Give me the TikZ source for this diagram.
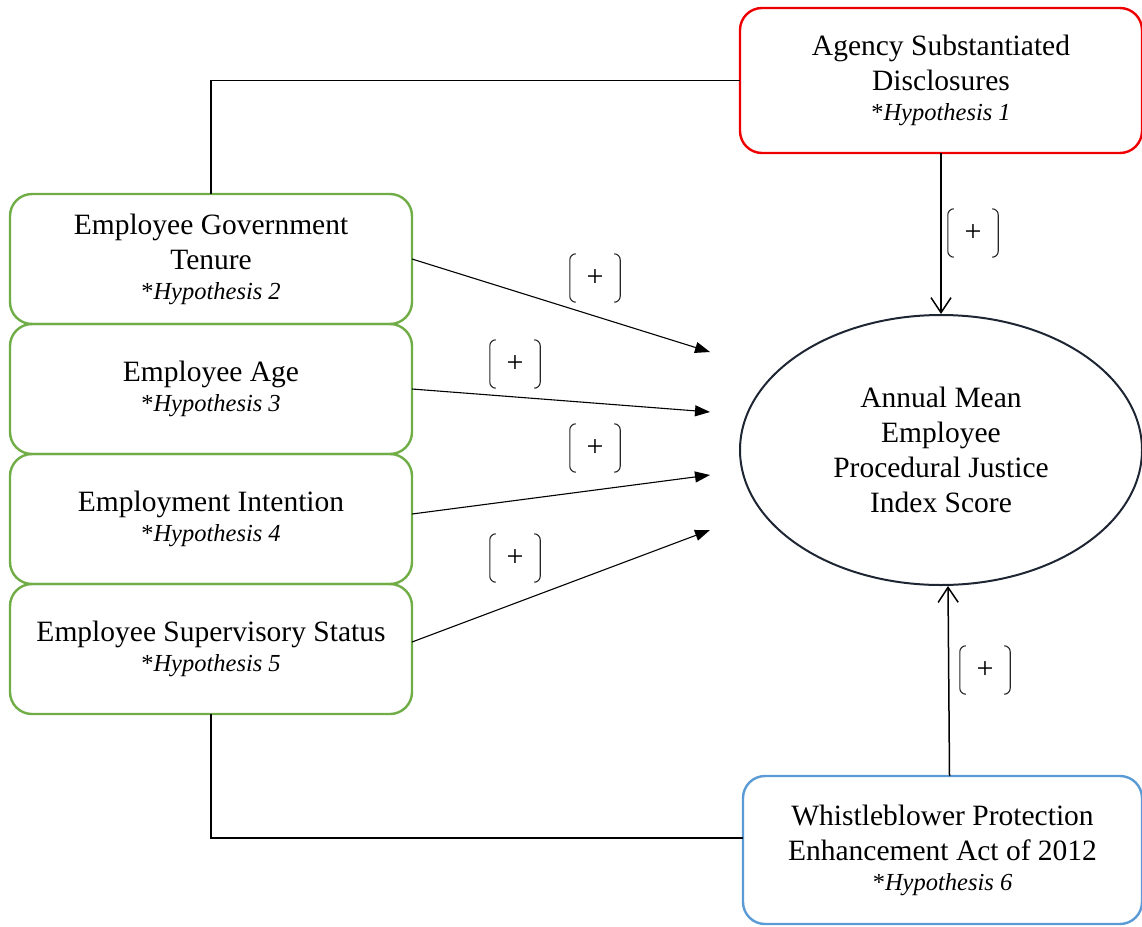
\documentclass[tikz,border=0pt]{standalone}
\usepackage{fontspec}
\setmainfont{Liberation Serif}
\usetikzlibrary{positioning,shapes.geometric,arrows.meta}
\definecolor{hgreen}{RGB}{112,173,71}
\definecolor{hred}{RGB}{238,0,0}
\definecolor{hblue}{RGB}{91,155,213}
\definecolor{hnavy}{RGB}{30,38,52}
\newcommand{\hyp}[1]{\\[-5pt]{\fontsize{24.5}{30}\selectfont *\textit{Hypothesis #1}}}

\begin{document}
\begin{tikzpicture}
      [x=1pt,y=-1pt,
      every node/.style={align=center,font=\fontsize{29.5}{35}\selectfont},
      box/.style={shape=rectangle,draw,rounded corners=22pt,line width=2.4pt,
        minimum width=402pt,minimum height=130pt,inner sep=0pt,outer sep=0pt},
      gbox/.style={box,draw=hgreen},
      pm/.style={minimum width=50pt,minimum height=48pt,inner sep=0pt,
        font=\fontsize{30}{30}\selectfont},
      brk/.style={draw=black!85,line width=1.1pt,rounded corners=6pt},
      link/.style={draw,line width=1.1pt},
      push/.style={link,-{Triangle[length=15pt,width=11pt]}},
      barb/.style={link,line width=1.5pt,-{Straight Barb[length=15pt,width=20pt]}}]
\useasboundingbox (0,0) rectangle (1142,926);
\node[box,draw=hred,minimum height=145pt] (agency) at (941,80.5)
    {Agency Substantiated\\Disclosures\hyp{1}};
\node[gbox] (tenure) at (211,259) {Employee Government\\Tenure\hyp{2}};
\node[gbox,below=0pt of tenure] (age) {Employee Age\hyp{3}};
\node[gbox,below=0pt of age] (intent) {Employment Intention\hyp{4}};
\node[gbox,below=0pt of intent] (superv) {Employee Supervisory Status\hyp{5}};
\node[ellipse,draw=hnavy,line width=2pt,minimum width=402pt,minimum height=270pt,
    inner sep=0pt] (pj) at (941,450)
    {Annual Mean\\Employee\\Procedural Justice\\Index Score};
\node[box,draw=hblue,minimum width=399pt,minimum height=148pt] (wpea) at (942.5,850)
    {Whistleblower Protection\\Enhancement Act of 2012\hyp{6}};
% free ends of the arrows
\coordinate (e1) at (710,352);
\coordinate (e2) at (710,412);
\coordinate (e3) at (710,475);
\coordinate (e4) at (710,530);
\draw[push] (tenure.east) -- (e1);
\draw[push] (age.east) -- (e2);
\draw[push] ([yshift=5pt]intent.east) -- (e3);
\draw[push] ([yshift=7pt]superv.east) -- (e4);
\draw[link] (tenure.north) |- (agency.west);
\draw[link] (superv.south) |- ([yshift=12pt]wpea.west);
\draw[barb] (agency.south) -- (pj.north);
\draw[barb] ([xshift=7pt]wpea.north) -- ([xshift=7pt]pj.south);
% signs
\node[pm] (p1) at (595,278) {+};
\node[pm] (p2) at (515,364) {+};
\node[pm] (p3) at (595,448) {+};
\node[pm] (p4) at (515,558) {+};
\node[pm] (p5) at (973,233) {+};
\node[pm] (p6) at (985,670) {+};
\foreach \p in {p1,p2,p3,p4,p5,p6}{
  \draw[brk] ([xshift=6pt]\p.north west) -- (\p.north west) -- (\p.south west) -- ([xshift=6pt]\p.south west);
  \draw[brk] ([xshift=-6pt]\p.north east) -- (\p.north east) -- (\p.south east) -- ([xshift=-6pt]\p.south east);
}
\end{tikzpicture}
\end{document}
